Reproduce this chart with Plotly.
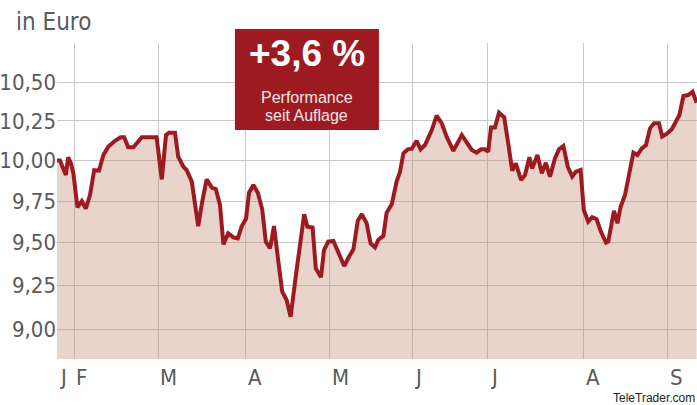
import plotly.graph_objects as go

# Trading-day index (x) and price in Euro (y)
day = [0, 0.75, 2.2, 2.8, 3.5, 4.1, 5.1, 6.2, 7.2, 8.25, 9.3, 10.5, 11.6, 12.8, 14.5, 15.9,
       16.8, 17.8, 19.1, 21.2, 24.9, 26.2, 27.25, 28, 29.5, 30.3, 31.6, 32.4, 33.7, 35.3,
       36.3, 37.4, 38.7, 39.7, 40.75, 41.6, 42.8, 44.1, 45.2, 46.2, 47.25, 48, 49.1, 50.2,
       51.3, 52.2, 53.25, 54.25, 55.5, 56.3, 57.4, 58.4, 59.9, 61.8, 62.6, 63.9, 64.7, 66,
       66.75, 67.8, 69.1, 70.3, 71.8, 73, 74.1, 75.2, 76.2, 77.4, 78.4, 79.5, 80.3, 81.6,
       82.4, 83.7, 84.9, 85.75, 86.6, 87.7, 88.7, 89.9, 90.9, 92, 93.7, 94.9, 96.2, 97.4,
       99.1, 101.2, 102.4, 103.7, 104.9, 106, 107, 107.8, 108.5, 109.5, 110.5, 111.8, 112.8,
       113.8, 114.7, 116, 117, 118.1, 118.8, 120.1, 121.2, 122.2, 123.25, 124.5, 125.5,
       126.6, 127.7, 128.8, 129.7, 130.9, 131.7, 132.8, 133.8, 134.9, 136, 137.25, 137.8,
       139.25, 140.1, 140.9, 142, 142.8, 144.1, 145.1, 146.2, 147.25, 148.25, 149.25, 150.5,
       151.3, 152.4, 153.7, 155.6, 156.6, 157.8, 158.9, 159.9]
price = [10.00, 10.00, 9.91, 10.02, 9.98, 9.92, 9.712, 9.75, 9.704, 9.787, 9.94, 9.937,
         10.034, 10.086, 10.124, 10.146, 10.146, 10.083, 10.083, 10.146, 10.146, 9.883,
         10.160, 10.175, 10.175, 10.024, 9.961, 9.941, 9.869, 9.599, 9.746, 9.883, 9.832,
         9.824, 9.726, 9.490, 9.556, 9.532, 9.526, 9.599, 9.643, 9.801, 9.848, 9.801, 9.700,
         9.506, 9.467, 9.599, 9.359, 9.214, 9.166, 9.071, 9.339, 9.670, 9.595, 9.591, 9.349,
         9.297, 9.457, 9.506, 9.510, 9.447, 9.363, 9.417, 9.461, 9.631, 9.671, 9.616, 9.496,
         9.472, 9.516, 9.541, 9.679, 9.732, 9.869, 9.930, 10.045, 10.070, 10.074, 10.124,
         10.070, 10.097, 10.192, 10.284, 10.235, 10.150, 10.061, 10.160, 10.118, 10.066,
         10.049, 10.070, 10.070, 10.055, 10.209, 10.209, 10.303, 10.273, 10.108, 9.937,
         9.983, 9.879, 9.910, 10.020, 9.951, 10.034, 9.920, 9.986, 9.900, 10.014, 10.070,
         10.091, 9.961, 9.900, 9.930, 9.941, 9.696, 9.625, 9.652, 9.640, 9.565, 9.500,
         9.506, 9.691, 9.616, 9.716, 9.787, 9.890, 10.049, 10.034, 10.076, 10.097, 10.203,
         10.235, 10.235, 10.150, 10.167, 10.197, 10.288, 10.411, 10.417, 10.439, 10.367]

month_pos = [0, 4.3, 25.3, 47.2, 68.2, 88.8, 107.7, 131.7, 152.7]
month_lbl = ["J", "F", "M", "A", "M", "J", "J", "A", "S"]

y_ticks = [9.00, 9.25, 9.50, 9.75, 10.00, 10.25, 10.50]
y_tick_lbl = ["9,00", "9,25", "9,50", "9,75", "10,00", "10,25", "10,50"]

perf_value = "+3,6 %"
perf_lines = ["Performance", "seit Auflage"]

RED = "#9d1b20"
GRID = "#c9c9c9"
TXT = "#5a5a5a"
NARROW = "Liberation Sans Narrow, DejaVu Sans Condensed, Arial Narrow, sans-serif"
SANS = "Liberation Sans, Arial, sans-serif"

fig = go.Figure()
fig.add_trace(go.Scatter(
    x=day, y=price, mode="lines",
    line=dict(color=RED, width=4),
    fill="tozeroy", fillcolor="rgba(189,132,104,0.35)",
    hoverinfo="skip", showlegend=False,
))

annotations = []
for p, l in zip(month_pos, month_lbl):
    annotations.append(dict(x=p, y=-0.058, xref="x", yref="paper", text=l,
                            showarrow=False, xanchor="left", yanchor="middle",
                            font=dict(family=NARROW, size=22, color=TXT)))
annotations.append(dict(x=-43 / 640, y=1.065, xref="paper", yref="paper",
                        text="in Euro", showarrow=False, xanchor="left", yanchor="middle",
                        font=dict(family=NARROW, size=24, color=TXT)))
annotations.append(dict(x=1.0, y=-0.123, xref="paper", yref="paper", text="TeleTrader.com",
                        showarrow=False, xanchor="right", yanchor="middle",
                        font=dict(family=SANS, size=12, color="#222222")))
annotations.append(dict(x=0.3906, y=0.968, xref="paper", yref="paper", text="<b>" + perf_value + "</b>",
                        showarrow=False, xanchor="center", yanchor="middle",
                        font=dict(family=SANS, size=37, color="white")))
annotations.append(dict(x=0.3906, y=0.829, xref="paper", yref="paper", text=perf_lines[0],
                        showarrow=False, xanchor="center", yanchor="middle",
                        font=dict(family=SANS, size=16, color="#f4e6e6")))
annotations.append(dict(x=0.3906, y=0.772, xref="paper", yref="paper", text=perf_lines[1],
                        showarrow=False, xanchor="center", yanchor="middle",
                        font=dict(family=SANS, size=16, color="#f4e6e6")))

fig.update_layout(
    width=697, height=405,
    margin=dict(l=57, r=0, t=43, b=46, pad=0, autoexpand=False),
    paper_bgcolor="white", plot_bgcolor="white",
    xaxis=dict(range=[0, 160], tickvals=month_pos, showticklabels=False, showgrid=True,
               gridcolor=GRID, gridwidth=1, zeroline=False, showline=False, ticks="",
               automargin=False),
    yaxis=dict(type="log", range=[0.94621, 1.03185], tickvals=y_ticks, ticktext=y_tick_lbl,
               showgrid=True, gridcolor=GRID, gridwidth=1, zeroline=False, showline=False,
               ticks="", automargin=False, tickfont=dict(family=NARROW, size=22, color=TXT)),
    shapes=[dict(type="rect", xref="paper", yref="paper", x0=0.278, x1=0.503, y0=0.7247, y1=1.044,
                 fillcolor=RED, line=dict(width=0), layer="above")],
    annotations=annotations,
)

fig.write_html("out.html")
